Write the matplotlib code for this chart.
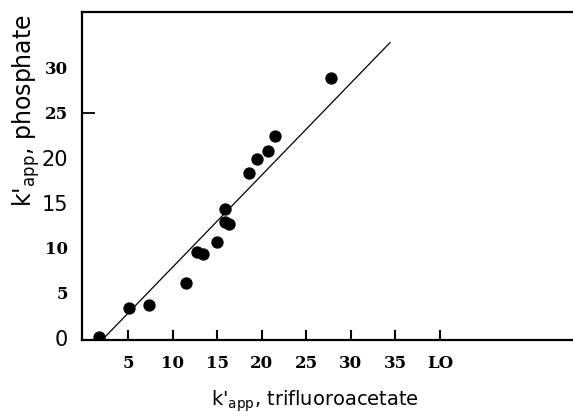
import matplotlib
matplotlib.use("Agg")
import matplotlib.pyplot as plt

# Data
x_tfa = [1.7, 5.1, 7.4, 11.5, 12.75, 13.4, 15.0, 15.9, 15.9, 16.3, 18.6, 19.5, 20.7, 21.5, 27.8]
y_phos = [0.1, 3.3, 3.7, 6.1, 9.6, 9.3, 10.7, 14.3, 12.9, 12.7, 18.3, 19.9, 20.8, 22.4, 28.9]
fit_x = [2.3, 34.4]
fit_y = [0.0, 32.8]
xtick_vals = [5, 10, 15, 20, 25, 30, 35, 40]
xtick_labels = ["5", "10", "15", "20", "25", "30", "35", "LO"]
ytick_vals = [0, 5, 10, 15, 20, 25, 30]
ytick_labels = ["0", "5", "10", "15", "20", "25", "30"]
ytick_bold = [False, True, True, False, False, True, True]
ymark = [25]  # the only visible y tick mark

W, H = 573, 416
fig = plt.figure(figsize=(W / 100, H / 100), dpi=100)
ax = fig.add_axes([82 / W, 1 - 340 / H, (W + 5 - 82) / W, (340 - 12) / H])

ax.plot(fit_x, fit_y, color="black", lw=0.9)
ax.scatter(x_tfa, y_phos, s=62, color="black", zorder=3)

ax.set_xlim(-0.17, 55.5)
ax.set_ylim(-0.22, 36.2)

for s in ["top", "bottom", "left"]:
    ax.spines[s].set_linewidth(1.6)
ax.spines["right"].set_visible(False)

ax.set_xticks(xtick_vals)
ax.set_xticklabels(xtick_labels, fontfamily="DejaVu Serif", fontweight="bold", fontsize=12)
ax.tick_params(axis="x", direction="in", length=7, width=1.5, pad=11)

ax.set_yticks(ytick_vals)
ax.set_yticklabels(ytick_labels)
ax.tick_params(axis="y", which="major", length=0, pad=10)
ax.yaxis.remove_overlapping_locs = False
ax.set_yticks(ymark, minor=True)
ax.tick_params(axis="y", which="minor", direction="in", length=9, width=1.3, color="black")
for lab, b in zip(ax.get_yticklabels(), ytick_bold):
    if b:
        lab.set_fontfamily("DejaVu Serif")
        lab.set_fontweight("bold")
        lab.set_fontsize(12)
    else:
        lab.set_fontfamily("DejaVu Sans")
        lab.set_fontsize(15)

ax.set_xlabel(r"k$'_{\mathrm{app}}$, trifluoroacetate", fontsize=14, labelpad=12, x=0.47)
ax.set_ylabel(r"k$'_{\mathrm{app}}$, phosphate", fontsize=17, labelpad=0, y=0.70)

fig.savefig("out.png", dpi=100)
